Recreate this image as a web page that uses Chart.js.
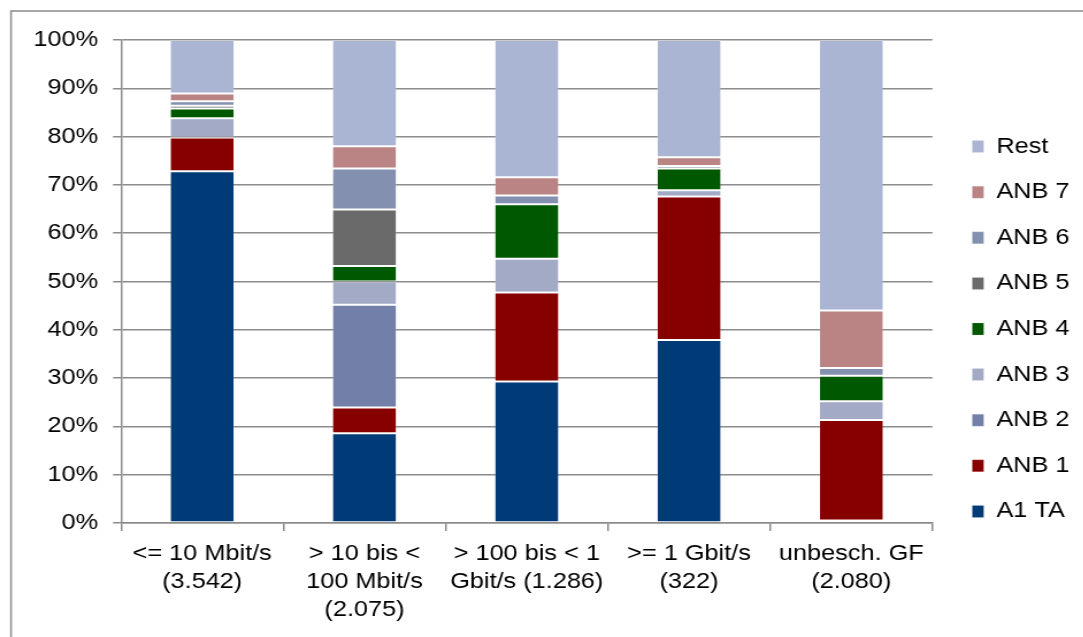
<!DOCTYPE html>
<html>
<head>
<meta charset="utf-8">
<script src="https://cdn.jsdelivr.net/npm/chart.js@4/dist/chart.umd.min.js"></script>
<style>
  html, body { margin: 0; padding: 0; background: #fff; overflow: hidden; }
  #wrap { width: 942px; height: 637px; transform: scaleX(1.15); transform-origin: 0 0; }
  canvas { display: block; }
</style>
</head>
<body>
<div id="wrap"><canvas id="c" width="942" height="637"></canvas></div>
<script>
// Categories (bandwidth classes with line counts)
const categories = [
  ["<= 10 Mbit/s", "(3.542)"],
  ["> 10 bis <", "100 Mbit/s", "(2.075)"],
  ["> 100 bis < 1", "Gbit/s (1.286)"],
  [">= 1 Gbit/s", "(322)"],
  ["unbesch. GF", "(2.080)"]
];

// Market shares in percent per provider
const a1ta = [72.8, 18.6, 29.3, 37.9, 0.5];
const anb1 = [7.0, 5.3, 18.4, 29.7, 20.8];
const anb2 = [0.0, 21.3, 0.0, 0.0, 0.0];
const anb3 = [4.0, 4.8, 7.0, 1.3, 3.9];
const anb4 = [2.0, 3.2, 11.3, 4.5, 5.3];
const anb5 = [0.6, 11.7, 0.0, 0.0, 0.0];
const anb6 = [0.9, 8.5, 1.8, 0.5, 1.6];
const anb7 = [1.6, 4.6, 3.8, 1.8, 11.9];
const rest = [11.1, 22.0, 28.4, 24.3, 56.0];

const seriesNames = ["A1 TA", "ANB 1", "ANB 2", "ANB 3", "ANB 4", "ANB 5", "ANB 6", "ANB 7", "Rest"];
const seriesData = [a1ta, anb1, anb2, anb3, anb4, anb5, anb6, anb7, rest];
const seriesColors = ["#003b77", "#870000", "#7280a9", "#a2aac5", "#005800", "#6a6a6a", "#8490b0", "#b98483", "#aab4d3"];

// Y-axis tick values
const yTicks = [0, 10, 20, 30, 40, 50, 60, 70, 80, 90, 100];

const FONT = "'Liberation Sans', Arial, sans-serif";
const GRID = "#8c8c8c";

const datasets = seriesNames.map((name, i) => ({
  label: name,
  data: seriesData[i],
  backgroundColor: seriesColors[i],
  borderColor: "rgba(255,255,255,0.15)",
  borderWidth: 1,
  borderSkipped: false,
  categoryPercentage: 0.5,
  barPercentage: 0.8
}));

// Thin frame around the whole chart
const framePlugin = {
  id: "frame",
  beforeDraw(chart) {
    const ctx = chart.ctx;
    ctx.save();
    ctx.fillStyle = "#ffffff";
    ctx.fillRect(0, 0, chart.width, chart.height);
    ctx.strokeStyle = "#8c8c8c";
    ctx.lineWidth = 1.5;
    ctx.strokeRect(9.6, 11, chart.width + 20, chart.height + 20);
    ctx.restore();
  }
};

// Nudge the legend block next to the plot
const legendShift = {
  id: "legendShift",
  afterLayout(chart) {
    const lg = chart.legend;
    if (!lg) return;
    lg.left += 11; lg.right += 11;
    lg.top -= 7.5; lg.bottom -= 7.5;
  }
};

new Chart(document.getElementById("c"), {
  type: "bar",
  data: { labels: categories, datasets },
  plugins: [framePlugin, legendShift],
  options: {
    responsive: false,
    animation: false,
    devicePixelRatio: 1,
    layout: { padding: { left: 16, top: 40, bottom: 4, right: 13 } },
    plugins: {
      tooltip: { enabled: false },
      legend: {
        position: "right",
        reverse: true,
        labels: {
          boxWidth: 10,
          boxHeight: 12,
          padding: 23.6,
          color: "#000",
          font: { family: FONT, size: 22 }
        }
      }
    },
    scales: {
      x: {
        stacked: true,
        grid: {
          offset: true,
          drawOnChartArea: false,
          drawTicks: true,
          tickLength: 8,
          color: GRID,
          lineWidth: 1.5
        },
        border: { color: GRID, width: 1.5 },
        ticks: {
          padding: 9,
          maxRotation: 0,
          autoSkip: false,
          color: "#000",
          font: { family: FONT, size: 22, lineHeight: 1.273 }
        }
      },
      y: {
        stacked: true,
        min: 0,
        max: 100,
        afterBuildTicks(scale) {
          scale.ticks = yTicks.map(v => ({ value: v }));
        },
        grid: {
          color: GRID,
          lineWidth: 1.5,
          tickLength: 7
        },
        border: { color: GRID, width: 1.5 },
        ticks: {
          padding: 13,
          color: "#000",
          font: { family: FONT, size: 22, lineHeight: 1.527 },
          callback: v => v + "%"
        }
      }
    }
  }
});
</script>
</body>
</html>
